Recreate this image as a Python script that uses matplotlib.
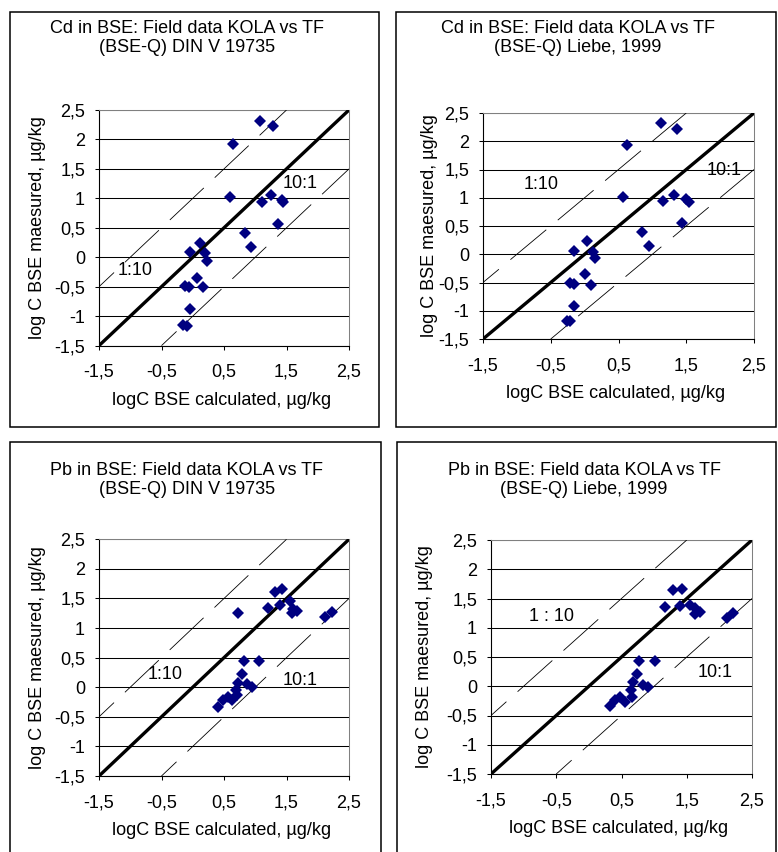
import matplotlib
matplotlib.use("Agg")
import matplotlib.pyplot as plt
from matplotlib.patches import Rectangle

plt.rcParams["font.family"] = ["Liberation Sans", "DejaVu Sans"]
plt.rcParams["lines.scale_dashes"] = False

# ---- data ---------------------------------------------------------------
x_ticks = [-1.5, -0.5, 0.5, 1.5, 2.5]
x_tick_labels = ["-1,5", "-0,5", "0,5", "1,5", "2,5"]
y_ticks = [-1.5, -1.0, -0.5, 0.0, 0.5, 1.0, 1.5, 2.0, 2.5]
y_tick_labels = ["-1,5", "-1", "-0,5", "0", "0,5", "1", "1,5", "2", "2,5"]

# Cd, transfer factor DIN V 19735
cd_din_calc = [1.08, 1.28, 0.65, 0.60, 1.10, 1.25, 1.42, 1.45, 1.37, 0.83, 0.93,
               0.12, -0.05, 0.20, 0.22, 0.07, -0.12, -0.06, 0.17, -0.05, -0.15, -0.10]
cd_din_meas = [2.32, 2.22, 1.92, 1.02, 0.94, 1.06, 0.97, 0.94, 0.57, 0.41, 0.17,
               0.25, 0.09, 0.08, -0.06, -0.35, -0.48, -0.51, -0.51, -0.88, -1.15, -1.16]

# Cd, transfer factor Liebe 1999
cd_liebe_calc = [1.13, 1.36, 0.63, 0.57, 1.15, 1.32, 1.49, 1.54, 1.44, 0.84, 0.95,
                 0.03, -0.15, 0.12, 0.16, 0.00, -0.22, -0.15, 0.09, -0.16, -0.26, -0.21]
cd_liebe_meas = [2.32, 2.22, 1.93, 1.01, 0.94, 1.04, 0.97, 0.92, 0.55, 0.39, 0.14,
                 0.23, 0.06, 0.04, -0.07, -0.35, -0.51, -0.53, -0.54, -0.92, -1.18, -1.19]

# Pb, transfer factor DIN V 19735
pb_din_calc = [1.32, 1.42, 1.21, 1.39, 1.55, 1.60, 1.67, 1.59, 2.12, 2.23, 0.73,
               0.82, 1.06, 0.79, 0.73, 0.86, 0.94, 0.69, 0.70, 0.57, 0.49, 0.62, 0.41]
pb_din_meas = [1.61, 1.66, 1.34, 1.39, 1.45, 1.33, 1.28, 1.25, 1.19, 1.27, 1.26,
               0.44, 0.44, 0.22, 0.08, 0.06, 0.00, -0.04, -0.13, -0.17, -0.22, -0.22, -0.34]

# Pb, transfer factor Liebe 1999
pb_liebe_calc = [1.29, 1.42, 1.17, 1.39, 1.55, 1.63, 1.70, 1.63, 2.12, 2.21,
                 0.77, 1.01, 0.74, 0.68, 0.83, 0.91, 0.64, 0.66, 0.48, 0.40, 0.55, 0.33]
pb_liebe_meas = [1.65, 1.67, 1.35, 1.38, 1.39, 1.33, 1.27, 1.23, 1.17, 1.25,
                 0.44, 0.44, 0.21, 0.08, 0.02, -0.02, -0.07, -0.18, -0.19, -0.24, -0.27, -0.34]

# ---- layout (pixels) ------------------------------------------------------
W, H = 778, 852
fig = plt.figure(figsize=(W / 100, H / 100), dpi=100)


def fx(px):
    return px / W


def fy(py):
    return 1 - py / H


panels = [
    dict(calc=cd_din_calc, meas=cd_din_meas,
         title=["Cd in BSE: Field data KOLA vs TF", "(BSE-Q) DIN V 19735"],
         ax=(99, 110, 349, 345.6), frame=(10, 12, 379, 427),
         title_x=187, title_y=(33, 52), xlab_x=222, ylab_x=38,
         notes=[("1:10", -0.92, -0.23), ("10:1", 1.72, 1.26)]),
    dict(calc=cd_liebe_calc, meas=cd_liebe_meas,
         title=["Cd in BSE: Field data KOLA vs TF", "(BSE-Q) Liebe, 1999"],
         ax=(483, 113, 754, 339), frame=(396, 12, 776, 427),
         title_x=578, title_y=(33, 52), xlab_x=616, ylab_x=429,
         notes=[("1:10", -0.64, 1.23), ("10:1", 2.06, 1.48)]),
    dict(calc=pb_din_calc, meas=pb_din_meas,
         title=["Pb in BSE: Field data KOLA vs TF", "(BSE-Q) DIN V 19735"],
         ax=(99, 539.3, 349, 776), frame=(10, 442, 381, 866),
         title_x=187, title_y=(475, 494), xlab_x=222, ylab_x=38,
         notes=[("1:10", -0.45, 0.22), ("10:1", 1.71, 0.12)]),
    dict(calc=pb_liebe_calc, meas=pb_liebe_meas,
         title=["Pb in BSE: Field data KOLA vs TF", "(BSE-Q) Liebe, 1999"],
         ax=(491, 540, 752, 774), frame=(397, 442, 776, 866),
         title_x=584, title_y=(475, 494), xlab_x=618.5, ylab_x=425,
         notes=[("1 : 10", -0.57, 1.20), ("10:1", 1.93, 0.23)]),
]

lim = (-1.5, 2.5)
ratio = 1.0  # log10(10): offset of the 1:10 and 10:1 lines

for p in panels:
    l, t, r, b = p["ax"]
    ax = fig.add_axes([fx(l), fy(b), (r - l) / W, (b - t) / H])
    ax.set_xlim(lim)
    ax.set_ylim(lim)

    ax.set_xticks(x_ticks)
    ax.set_xticklabels(x_tick_labels)
    ax.set_yticks(y_ticks)
    ax.set_yticklabels(y_tick_labels)
    ax.tick_params(direction="out", length=3, width=0.75, color="black",
                   labelsize=13)
    ax.tick_params(axis="y", pad=7)
    ax.tick_params(axis="x", pad=10)

    ax.yaxis.grid(True, color="black", lw=0.75)
    ax.set_axisbelow(True)
    for side in ("top", "right"):
        ax.spines[side].set_color("#808080")
        ax.spines[side].set_linewidth(0.75)
    for side in ("left", "bottom"):
        ax.spines[side].set_color("black")
        ax.spines[side].set_linewidth(0.8)

    # 1:1 line
    ax.plot(lim, lim, color="black", lw=2.4, zorder=3, solid_capstyle="butt")
    # 1:10 and 10:1 lines
    ax.plot([lim[0], lim[1] - ratio], [lim[0] + ratio, lim[1]], color="black",
            lw=0.6, linestyle=(18.7, (33.6, 10.8)), zorder=3)
    ax.plot([lim[0] + ratio, lim[1]], [lim[0], lim[1] - ratio], color="black",
            lw=0.6, linestyle=(18.7, (33.6, 10.8)), zorder=3)

    ax.plot(p["calc"], p["meas"], linestyle="none", marker="D", color="#000080",
            ms=6.3, mew=0, zorder=5, clip_on=False)

    for txt, tx, ty in p["notes"]:
        ax.text(tx, ty, txt, ha="center", va="center", fontsize=13, zorder=4)

    ax.set_xlabel("logC BSE calculated, µg/kg", fontsize=13, va="baseline")
    ax.xaxis.set_label_coords((p["xlab_x"] - l) / (r - l), -59 / (b - t))
    ax.set_ylabel("log C BSE maesured, µg/kg", fontsize=13, va="center")
    ax.yaxis.set_label_coords((p["ylab_x"] - l) / (r - l), 0.5)

    for line, by in zip(p["title"], p["title_y"]):
        fig.text(fx(p["title_x"]), fy(by), line, ha="center", va="baseline",
                 fontsize=13)

    x0, y0, x1, y1 = p["frame"]
    fig.add_artist(Rectangle((fx(x0), fy(y1)), (x1 - x0) / W, (y1 - y0) / H,
                             transform=fig.transFigure, fill=False,
                             ec="black", lw=1.1))

fig.savefig("out.png", dpi=100, facecolor="white")
